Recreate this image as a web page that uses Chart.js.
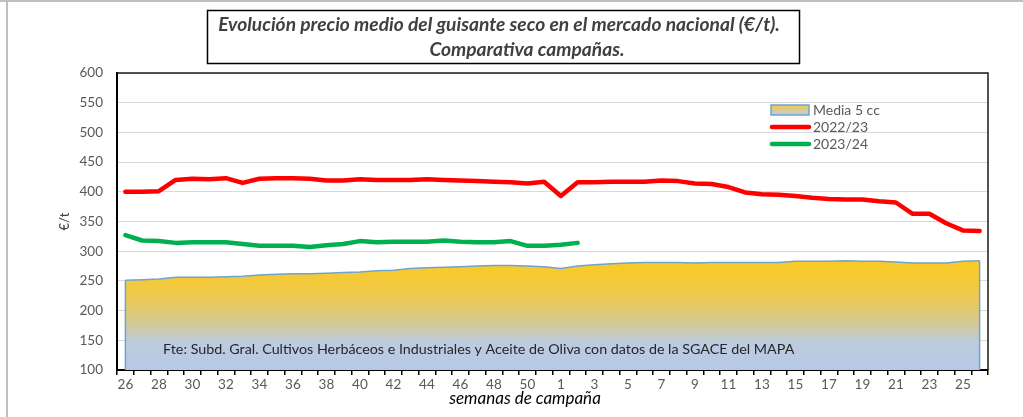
<!DOCTYPE html>
<html>
<head>
<meta charset="utf-8">
<script src="https://cdn.jsdelivr.net/npm/chart.js@4.4.0/dist/chart.umd.min.js"></script>
<style>
  html, body { margin: 0; padding: 0; background: #fff; }
  #wrap { position: relative; width: 1023px; height: 417px; }
  canvas { display: block; }
</style>
</head>
<body>
<div id="wrap"><canvas id="c" width="1023" height="417"></canvas></div>
<script>
// ---- data ----
const weeks = ['26','27','28','29','30','31','32','33','34','35','36','37','38','39','40','41','42','43','44','45','46','47','48','49','50','51',
               '1','2','3','4','5','6','7','8','9','10','11','12','13','14','15','16','17','18','19','20','21','22','23','24','25','26'];
const media5cc = [251,252,253,256,256,256,257,258,260,261,262,262,263,264,265,267,268,271,272,273,274,275,276,276,275,274,
                  271,275,277,279,280,281,281,281,280,281,281,281,281,281,283,283,283,284,283,283,282,280,280,280,283,284];
const c2022 = [400,400,401,420,422,421,423,415,422,423,423,422,419,419,421,420,420,420,421,420,419,418,417,416,414,417,
               393,416,416,417,417,417,419,418,414,413,408,399,396,395,393,390,388,387,387,384,382,363,363,347,335,334];
const c2023 = [327,318,317,314,315,315,315,312,309,309,309,307,310,312,317,315,316,316,316,318,316,315,315,317,309,309,
               311,314,null,null,null,null,null,null,null,null,null,null,null,null,null,null,null,null,null,null,null,null,null,null,null,null];
const seriesNames = ['Media 5 cc','2022/23','2023/24'];
const yTicks = [100,150,200,250,300,350,400,450,500,550,600];
const titleLines = ['Evolución precio medio del guisante seco en el mercado nacional (€/t).','Comparativa campañas.'];
const sourceText = 'Fte: Subd. Gral. Cultivos Herbáceos e Industriales y Aceite de Oliva con datos de la SGACE del MAPA';
const xTitle = 'semanas de campaña';
const yTitle = '€/t';

const FONT = 'Lato, "Open Sans", sans-serif';

function areaGradient(ctx, chart) {
  const y = chart.scales.y;
  const g = ctx.createLinearGradient(0, y.getPixelForValue(285), 0, y.getPixelForValue(100));
  g.addColorStop(0, '#FACB22');
  g.addColorStop(0.30, '#EFC848');
  g.addColorStop(0.55, '#D6C98C');
  g.addColorStop(0.75, '#BCCCDF');
  g.addColorStop(1, '#B5C9E6');
  return g;
}

const decor = {
  id: 'decor',
  beforeDraw(chart) {
    const ctx = chart.ctx;
    ctx.save();
    ctx.fillStyle = '#fff';
    ctx.fillRect(0, 0, chart.width, chart.height);
    ctx.fillStyle = '#BFBFBF';
    ctx.fillRect(0, 0, chart.width, 2);
    ctx.fillRect(6, 0, 2, chart.height);
    ctx.restore();
  },
  afterDatasetsDraw(chart) {
    const ctx = chart.ctx;
    const a = chart.chartArea;
    const pts = chart.getDatasetMeta(0).data;
    ctx.save();
    ctx.strokeStyle = '#6FA3D2';
    ctx.lineWidth = 1.5;
    [pts[0], pts[pts.length - 1]].forEach(p => {
      ctx.beginPath();
      ctx.moveTo(p.x, p.y);
      ctx.lineTo(p.x, a.bottom);
      ctx.stroke();
    });
    ctx.fillStyle = '#262626';
    ctx.font = '14.3px ' + FONT;
    ctx.textBaseline = 'middle';
    ctx.textAlign = 'left';
    ctx.fillText(sourceText, 163, 349);
    ctx.restore();
  },
  afterDraw(chart) {
    const ctx = chart.ctx;
    const a = chart.chartArea;
    ctx.save();
    ctx.strokeStyle = '#1a1a1a';
    ctx.lineWidth = 1.5;
    ctx.beginPath();
    ctx.moveTo(a.left, a.top);
    ctx.lineTo(a.right, a.top);
    ctx.lineTo(a.right, a.bottom);
    ctx.stroke();
    // title box
    ctx.lineWidth = 1.5;
    ctx.strokeStyle = '#000';
    ctx.strokeRect(207.5, 10.5, 592, 53);
    ctx.fillStyle = '#404040';
    ctx.font = 'italic bold 19.2px ' + FONT;
    ctx.textAlign = 'center';
    ctx.textBaseline = 'middle';
    ctx.fillText(titleLines[0], 499, 25);
    ctx.fillText(titleLines[1], 527, 50);
    // x axis title
    ctx.fillStyle = '#000';
    ctx.font = 'italic 17px ' + FONT;
    ctx.fillText(xTitle, 525, 399);
    // legend
    const ds = chart.data.datasets;
    const lx = 771, ly = [110, 127, 144];
    ctx.font = '14px ' + FONT;
    ctx.textAlign = 'left';
    const g = ctx.createLinearGradient(0, ly[0] - 5, 0, ly[0] + 5);
    g.addColorStop(0, '#F3C948');
    g.addColorStop(1, '#BCCCDF');
    ctx.fillStyle = g;
    ctx.fillRect(lx, ly[0] - 5, 38, 10);
    ctx.strokeStyle = '#6FA3D2';
    ctx.lineWidth = 1.5;
    ctx.strokeRect(lx, ly[0] - 5, 38, 10);
    for (let i = 1; i < 3; i++) {
      ctx.strokeStyle = ds[i].borderColor;
      ctx.lineWidth = 4.5;
      ctx.lineCap = 'round';
      ctx.beginPath();
      ctx.moveTo(lx + 1, ly[i]);
      ctx.lineTo(lx + 38, ly[i]);
      ctx.stroke();
    }
    ctx.fillStyle = '#595959';
    for (let i = 0; i < 3; i++) ctx.fillText(ds[i].label, 813, ly[i]);
    ctx.restore();
  }
};

new Chart(document.getElementById('c'), {
  type: 'line',
  data: {
    labels: weeks,
    datasets: [
      {
        label: seriesNames[0], data: media5cc,
        borderColor: '#6FA3D2', borderWidth: 1.5,
        backgroundColor: (c) => c.chart.chartArea ? areaGradient(c.chart.ctx, c.chart) : '#F3C948',
        fill: 'start', pointRadius: 0, tension: 0, order: 3
      },
      {
        label: seriesNames[1], data: c2022,
        borderColor: '#FF0000', borderWidth: 4.5, fill: false,
        pointRadius: 0, tension: 0, order: 2, borderCapStyle: 'round', borderJoinStyle: 'round'
      },
      {
        label: seriesNames[2], data: c2023,
        borderColor: '#00B050', borderWidth: 4.5, fill: false,
        pointRadius: 0, tension: 0, order: 1, spanGaps: false, borderCapStyle: 'round', borderJoinStyle: 'round'
      }
    ]
  },
  options: {
    responsive: false,
    animation: false,
    layout: { padding: { left: 53, right: 35, top: 73, bottom: 22 } },
    plugins: { legend: { display: false }, title: { display: false }, tooltip: { enabled: false } },
    scales: {
      x: {
        offset: true,
        grid: { display: true, drawOnChartArea: false, drawTicks: true, tickLength: 5, color: '#000', lineWidth: 1.5, offset: true },
        border: { display: true, color: '#000', width: 2 },
        ticks: {
          autoSkip: false, maxRotation: 0, minRotation: 0, padding: 2,
          color: '#595959', font: { family: FONT, size: 13.5 },
          callback: function(v, i) { return i % 2 === 0 ? weeks[i] : ''; }
        },
        afterFit(s) { s.height = 25; }
      },
      y: {
        min: yTicks[0], max: yTicks[yTicks.length - 1],
        afterBuildTicks(s) { s.ticks = yTicks.map(v => ({ value: v })); },
        grid: { color: '#D9D9D9', lineWidth: 1, drawTicks: false },
        border: { display: true, color: '#000', width: 2 },
        ticks: { color: '#595959', font: { family: FONT, size: 13.5 }, padding: 14 },
        title: { display: true, text: yTitle, color: '#404040', font: { family: FONT, size: 13 }, padding: { top: 4, bottom: 0 } },
        afterFit(s) { s.width = 64; }
      }
    }
  },
  plugins: [decor]
});
</script>
</body>
</html>
